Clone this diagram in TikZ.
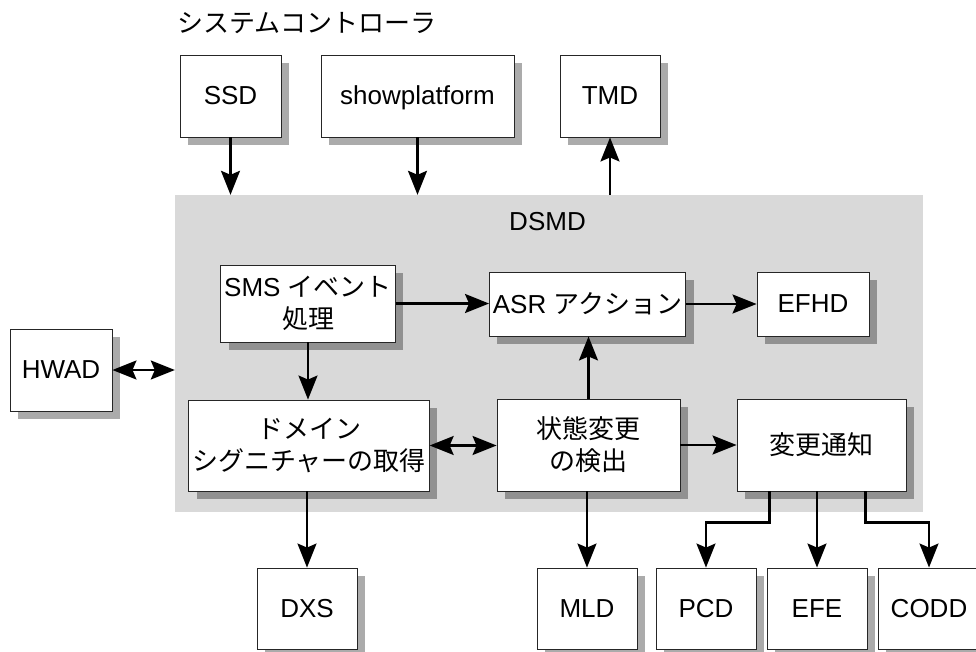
\documentclass[tikz,border=0pt]{standalone}
\usepackage{fontspec}
\setmainfont{Liberation Sans}
\newfontfamily\jp{Noto Sans CJK JP}
\usepackage{tikz}
\usetikzlibrary{arrows.meta}
\usetikzlibrary{shadows}
\definecolor{dsmdgray}{RGB}{217,217,217}
\newcommand{\unitbox}[6]{\node[unit, minimum width=#4pt, minimum height=#5pt] (#1) at ( #2 , #3 ) {#6};}

\begin{document}
\begin{tikzpicture}[x=1pt,y=-1pt,
    unit/.style={draw=black!85, line width=0.9pt, fill=white, align=center,
        font=\fontsize{26pt}{32pt}\selectfont,
        drop shadow={shadow xshift=8pt, shadow yshift=-8pt, fill=black, opacity=0.33}},
    tip/.tip={Stealth[length=24pt 0 0,width=19pt 0 0,inset=4pt]},
    arr/.style={line width=2.2pt, -tip},
    arrboth/.style={line width=2.2pt, tip-tip}]
        \useasboundingbox (0,0) rectangle (976,651);

        % title
        \node[anchor=west, inner sep=0pt, font=\jp\fontsize{26pt}{32pt}\selectfont] (title) at (177,23) {システムコントローラ};

        % DSMD area
        \node[fill=dsmdgray, draw=none, minimum width=748pt, minimum height=317pt, inner sep=0pt] (dsmd) at (549,353.5) {};
        \node[font=\fontsize{26pt}{32pt}\selectfont, inner sep=0pt] (dsmdlbl) at (547.5,222) {DSMD};

        % row top
        \unitbox{ssd}{230.5}{96}{101}{82}{SSD}
        \unitbox{showplat}{417.5}{96}{193}{82}{\vphantom{S}\smash{showplatform}}
        \unitbox{tmd}{610}{96}{100}{82}{TMD}
        % left
        \unitbox{hwad}{61}{370}{102}{82}{HWAD}
        % inside DSMD
        \unitbox{smsev}{308}{303.5}{170}{77}{SMS {\jp イベント}\\{\jp 処理}}
        \unitbox{asract}{587.5}{304}{181}{64}{ASR {\jp アクション}}
        \unitbox{efhd}{813}{304}{112}{64}{EFHD}
        \unitbox{domsig}{309}{445.5}{240}{91}{{\jp ドメイン}\\{\jp シグニチャーの取得}}
        \unitbox{statchg}{588.5}{445}{183}{92}{{\jp 状態変更}\\{\jp の検出}}
        \unitbox{chgnote}{821.5}{445}{169}{92}{{\jp 変更通知}}
        % row bottom
        \unitbox{dxs}{307}{608.5}{100}{81}{DXS}
        \unitbox{mld}{587}{608.5}{100}{81}{MLD}
        \unitbox{pcd}{706}{608.5}{100}{81}{PCD}
        \unitbox{efe}{817}{608.5}{100}{81}{EFE}
        \unitbox{codd}{929}{608.5}{102}{81}{CODD}

        % connectors top
        \draw[arr] (ssd) -- (ssd |- dsmd.north);
        \draw[arr] (showplat) -- (showplat |- dsmd.north);
        \draw[arr] (tmd |- dsmd.north) -- (tmd);
        \draw[arrboth] (hwad) -- (hwad -| dsmd.west);
        % connectors inside
        \draw[arr] (smsev.east) -- (smsev.east -| asract.west);
        \draw[arr] (smsev) -- (smsev |- domsig.north);
        \draw[arr] (asract) -- (efhd);
        \draw[arrboth] (domsig.east) -- (domsig.east -| statchg.west);
        \draw[arr] (statchg) -- (statchg |- asract.south);
        \draw[arr] (statchg) -- (chgnote);
        % connectors bottom
        \draw[arr] (dxs |- domsig.south) -- (dxs);
        \draw[arr] (mld |- statchg.south) -- (mld);
        \draw[arr] ([xshift=-52pt]chgnote.south) -- ++(0,31) -| (pcd.north);
        \draw[arr] (efe |- chgnote.south) -- (efe);
        \draw[arr] ([xshift=44pt]chgnote.south) -- ++(0,31) -| (codd.north);
\end{tikzpicture}
\end{document}
